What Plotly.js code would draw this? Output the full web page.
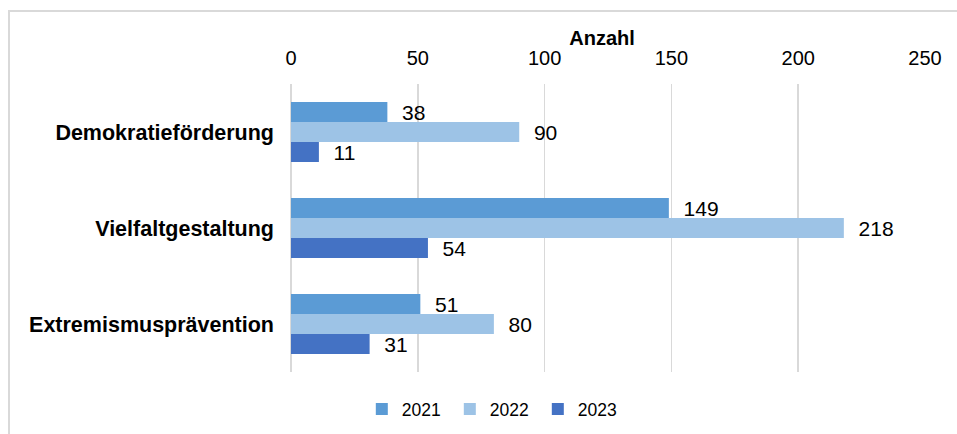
<!DOCTYPE html>
<html>
<head>
<meta charset="utf-8">
<script src="https://cdn.plot.ly/plotly-3.0.1.min.js"></script>
<style>
  html, body { margin: 0; padding: 0; background: #fff; }
  #wrap { position: relative; width: 957px; height: 434px; overflow: hidden; }
  #chart { width: 957px; height: 434px; }
  #frame { position: absolute; left: 8px; top: 10px; width: 1200px; height: 800px;
           border-left: 2px solid #d9d9d9; border-top: 2px solid #d9d9d9; pointer-events: none; }
</style>
</head>
<body>
<div id="wrap">
  <div id="chart"></div>
  <div id="frame"></div>
</div>
<script>
const categories = ["Demokratieförderung", "Vielfaltgestaltung", "Extremismusprävention"];
const years = ["2021", "2022", "2023"];
const values2021 = [38, 149, 51];
const values2022 = [90, 218, 80];
const values2023 = [11, 54, 31];
const colors = ["#5B9BD5", "#9DC3E6", "#4472C4"];
const xTicks = [0, 50, 100, 150, 200, 250];
const axisTitle = "Anzahl";

const FONT = "Arial, 'Liberation Sans', sans-serif";
const series = [values2021, values2022, values2023];

const traces = series.map((vals, i) => ({
  type: "bar",
  orientation: "h",
  name: years[i],
  x: vals,
  y: categories,
  marker: { color: colors[i] },
  texttemplate: "\u00a0\u00a0%{x}",
  textposition: "outside",
  constraintext: "none",
  cliponaxis: false,
  outsidetextfont: { family: FONT, size: 21, color: "#000" },
  hoverinfo: "x+name"
}));

const layout = {
  width: 957,
  height: 434,
  margin: { l: 291, r: 32, t: 84, b: 62 },
  paper_bgcolor: "#fff",
  plot_bgcolor: "#fff",
  font: { family: FONT, color: "#000" },
  title: {
    text: "<b>" + axisTitle + "</b>",
    xref: "container", x: 602 / 957, xanchor: "center",
    yref: "container", y: 1 - 38 / 434, yanchor: "middle",
    font: { family: FONT, size: 20, color: "#000" }
  },
  barmode: "group",
  bargap: 0.375,
  bargroupgap: 0,
  showlegend: true,
  legend: {
    orientation: "h",
    xref: "container",
    x: 0.516,
    xanchor: "center",
    yref: "container",
    y: 25 / 434,
    yanchor: "middle",
    entrywidthmode: "pixels",
    entrywidth: 43,
    font: { family: FONT, size: 17.5, color: "#000" },
    traceorder: "normal"
  },
  xaxis: {
    side: "top",
    range: [0, 250],
    tickvals: xTicks,
    ticks: "",
    ticklabelstandoff: 14,
    tickfont: { family: FONT, size: 20, color: "#000" },
    showgrid: true,
    gridcolor: "#d9d9d9",
    gridwidth: 1.5,
    zeroline: true,
    zerolinecolor: "#d9d9d9",
    zerolinewidth: 1.5,
    showline: false,
    fixedrange: true
  },
  yaxis: {
    type: "category",
    autorange: "reversed",
    ticks: "",
    ticklabelstandoff: 16,
    tickfont: { family: FONT, size: 21.5, color: "#000", weight: "bold" },
    showgrid: false,
    zeroline: false,
    showline: false,
    fixedrange: true
  }
};

Plotly.newPlot("chart", traces, layout, { displayModeBar: false, staticPlot: true });
</script>
</body>
</html>
